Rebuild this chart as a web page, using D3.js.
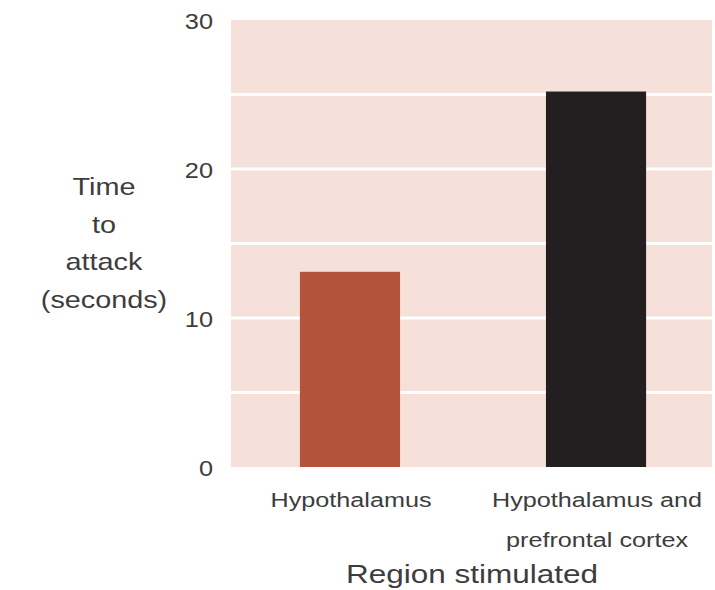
<!DOCTYPE html>
<html>
<head>
    <meta charset="utf-8">
    <title>Time to attack</title>
    <script src="https://d3js.org/d3.v7.min.js"></script>
    <style>
        body { margin: 0; background: #fff; }
        text { font-family: "Liberation Sans", Arial, sans-serif; fill: #3d3d3d; }
    </style>
</head>
<body>
    <div id="chart"></div>
    <script>
        // data
        var regions = ["Hypothalamus", "Hypothalamus and\nprefrontal cortex"];
        var attackTimes = [13.1, 25.2];
        var barColors = ["#b5523c", "#231f20"];
        var tickValues = [0, 10, 20, 30];
        var gridValues = [5, 10, 15, 20, 25];
        var yTitle = ["Time", "to", "attack", "(seconds)"];

        var svg = d3.select("#chart").append("svg")
            .attr("width", 715)
            .attr("height", 590);

        var plot = { left: 231, right: 712, top: 20, bottom: 467 };

        // the original text looks a bit stretched sideways
        var stretch = 1.2;

        var x = d3.scaleBand()
            .domain(regions)
            .range([plot.left, 715])
            .paddingInner(0.593)
            .paddingOuter(0.28);

        var y = d3.scaleLinear()
            .domain([0, 30])
            .range([plot.bottom, plot.top]);

        // pink panel
        svg.append("rect")
            .attr("x", plot.left)
            .attr("y", plot.top)
            .attr("width", plot.right - plot.left)
            .attr("height", plot.bottom - plot.top)
            .attr("fill", "#f5e1da");

        // white grid lines
        svg.selectAll(".grid")
            .data(gridValues)
            .enter().append("line")
            .attr("class", "grid")
            .attr("x1", plot.left)
            .attr("x2", plot.right)
            .attr("y1", d => y(d))
            .attr("y2", d => y(d))
            .attr("stroke", "#fff")
            .attr("stroke-width", 3);

        // bars
        svg.selectAll(".bar")
            .data(attackTimes)
            .enter().append("rect")
            .attr("class", "bar")
            .attr("x", (d, i) => x(regions[i]))
            .attr("y", d => y(d))
            .attr("width", x.bandwidth())
            .attr("height", d => y(0) - y(d))
            .attr("fill", (d, i) => barColors[i]);

        // y axis (labels only)
        var yAxis = svg.append("g")
            .attr("transform", `translate(${plot.left - 18},0)`)
            .call(d3.axisLeft(y).tickValues(tickValues).tickSize(0).tickPadding(0));
        yAxis.select(".domain").remove();
        yAxis.selectAll("text")
            .style("font-size", "22px")
            .attr("fill", "#3d3d3d")
            .attr("dy", "0.38em")
            .attr("transform", "scale(1.15,1)");

        // x axis (labels only, two-line names)
        var xAxis = svg.append("g")
            .attr("transform", `translate(0,${plot.bottom})`)
            .call(d3.axisBottom(x).tickSize(0).tickFormat(""));
        xAxis.select(".domain").remove();
        xAxis.selectAll(".tick").each(function (d) {
            var lines = d.split("\n");
            var t = d3.select(this).append("text")
                .attr("text-anchor", "middle")
                .attr("transform", `translate(1,0) scale(${stretch},1)`)
                .style("font-size", "21px");
            lines.forEach(function (line, i) {
                t.append("tspan")
                    .attr("x", 0)
                    .attr("y", 40 + i * 40)
                    .text(line);
            });
        });

        // y title
        svg.append("text")
            .attr("text-anchor", "middle")
            .attr("transform", `translate(104,0) scale(${stretch},1)`)
            .style("font-size", "24px")
            .selectAll("tspan")
            .data(yTitle)
            .enter().append("tspan")
            .attr("x", 0)
            .attr("y", (d, i) => 195 + i * 37.7)
            .text(d => d);

        // x title
        svg.append("text")
            .attr("text-anchor", "middle")
            .attr("transform", "translate(472,583) scale(1.26,1)")
            .style("font-size", "25px")
            .text("Region stimulated");
    </script>
</body>
</html>
